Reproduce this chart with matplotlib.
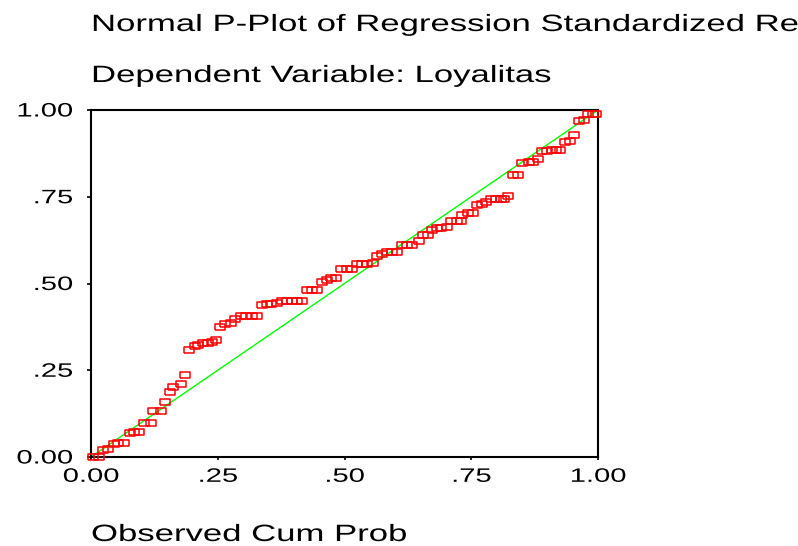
import matplotlib
matplotlib.use("Agg")
import matplotlib.pyplot as plt
from matplotlib import patheffects
from matplotlib.transforms import Affine2D

# observed vs expected cumulative probability
obs_cum = [0.003, 0.016, 0.024, 0.034, 0.046, 0.054, 0.066, 0.077, 0.085, 0.095,
           0.105, 0.118, 0.123, 0.138, 0.146, 0.156, 0.162, 0.177, 0.185, 0.194,
           0.205, 0.212, 0.221, 0.230, 0.238, 0.246, 0.254, 0.264, 0.276, 0.284,
           0.296, 0.306, 0.317, 0.328, 0.337, 0.347, 0.356, 0.366, 0.376, 0.386,
           0.396, 0.406, 0.416, 0.427, 0.436, 0.446, 0.455, 0.465, 0.473, 0.483,
           0.494, 0.504, 0.514, 0.525, 0.535, 0.545, 0.556, 0.564, 0.573, 0.583,
           0.593, 0.603, 0.613, 0.623, 0.633, 0.646, 0.654, 0.665, 0.672, 0.682,
           0.690, 0.703, 0.711, 0.721, 0.729, 0.732, 0.744, 0.754, 0.761, 0.771,
           0.780, 0.789, 0.798, 0.808, 0.815, 0.823, 0.832, 0.842, 0.851, 0.863,
           0.872, 0.882, 0.890, 0.900, 0.909, 0.917, 0.925, 0.935, 0.945, 0.953,
           0.963, 0.972, 0.981, 0.991, 0.997]
exp_cum = [0.000, 0.000, 0.020, 0.024, 0.037, 0.041, 0.041, 0.068, 0.071, 0.071,
           0.097, 0.097, 0.132, 0.132, 0.158, 0.187, 0.201, 0.210, 0.235, 0.308,
           0.321, 0.324, 0.328, 0.329, 0.331, 0.338, 0.374, 0.382, 0.387, 0.399,
           0.407, 0.407, 0.407, 0.407, 0.439, 0.441, 0.441, 0.443, 0.450, 0.450,
           0.450, 0.450, 0.450, 0.481, 0.481, 0.481, 0.503, 0.509, 0.515, 0.515,
           0.541, 0.541, 0.541, 0.555, 0.555, 0.555, 0.558, 0.580, 0.584, 0.590,
           0.590, 0.592, 0.610, 0.610, 0.610, 0.623, 0.641, 0.641, 0.654, 0.659,
           0.659, 0.662, 0.679, 0.679, 0.681, 0.697, 0.704, 0.704, 0.726, 0.729,
           0.734, 0.743, 0.744, 0.744, 0.744, 0.752, 0.813, 0.813, 0.846, 0.850,
           0.850, 0.858, 0.882, 0.882, 0.885, 0.885, 0.885, 0.909, 0.912, 0.929,
           0.967, 0.971, 0.988, 0.988, 0.988]

tick_vals = [0, 0.25, 0.5, 0.75, 1.0]
tick_text = ["0.00", ".25", ".50", ".75", "1.00"]

title = "Normal P-Plot of Regression Standardized Residual"
subtitle = "Dependent Variable: Loyalitas"
xlabel = "Observed Cum Prob"


class Widen(patheffects.AbstractPathEffect):
    # stretch glyphs sideways, like the old SPSS chart fonts
    def __init__(self, sx=1.47, anchor=0.0):
        super().__init__()
        self.sx = sx
        self.anchor = anchor

    def draw_path(self, renderer, gc, tpath, affine, rgbFace=None):
        x1 = tpath.get_extents().x1
        shift = -(self.sx - 1) * x1 * self.anchor
        stretch = Affine2D().scale(self.sx, 1).translate(shift, 0)
        renderer.draw_path(gc, tpath, stretch + affine, rgbFace)


plt.rcParams["font.family"] = ["Liberation Sans", "DejaVu Sans"]

W, H = 798, 546
fig = plt.figure(figsize=(W / 100, H / 100), dpi=100)
ax = fig.add_axes([91 / W, (H - 457) / H, 507 / W, 347 / H])

ax.plot([0, 1], [0, 1], color="#00ff00", lw=1.0, zorder=2)

box = [(-1.5, -1), (1.5, -1), (1.5, 1), (-1.5, 1), (-1.5, -1)]
ax.plot(obs_cum, exp_cum, ls="none", marker=box, markersize=7.5,
        markerfacecolor="none", markeredgecolor="#ff0000", markeredgewidth=1.1,
        clip_on=False, zorder=3)

ax.set_xlim(0, 1)
ax.set_ylim(0, 1)
for sp in ax.spines.values():
    sp.set_linewidth(1.5)
    sp.set_color("black")

ax.set_xticks(tick_vals, tick_text)
ax.set_yticks(tick_vals, tick_text)
ax.tick_params(axis="x", direction="out", length=2.5, width=1.2, pad=6, labelsize=14)
ax.tick_params(axis="y", direction="out", length=3, width=1.2, pad=10, labelsize=14)
for lab in ax.get_xticklabels():
    lab.set_path_effects([Widen(1.5, 0.5)])
for lab in ax.get_yticklabels():
    lab.set_path_effects([Widen(1.5, 1.0)])

fig.text(91 / W, 1 - 31 / H, title, fontsize=17, va="baseline", ha="left",
         path_effects=[Widen(1.47)])
fig.text(91 / W, 1 - 82 / H, subtitle, fontsize=17, va="baseline", ha="left",
         path_effects=[Widen(1.47)])
fig.text(91 / W, 1 - 541 / H, xlabel, fontsize=17, va="baseline", ha="left",
         path_effects=[Widen(1.47)])

fig.savefig("out.png", dpi=100)
